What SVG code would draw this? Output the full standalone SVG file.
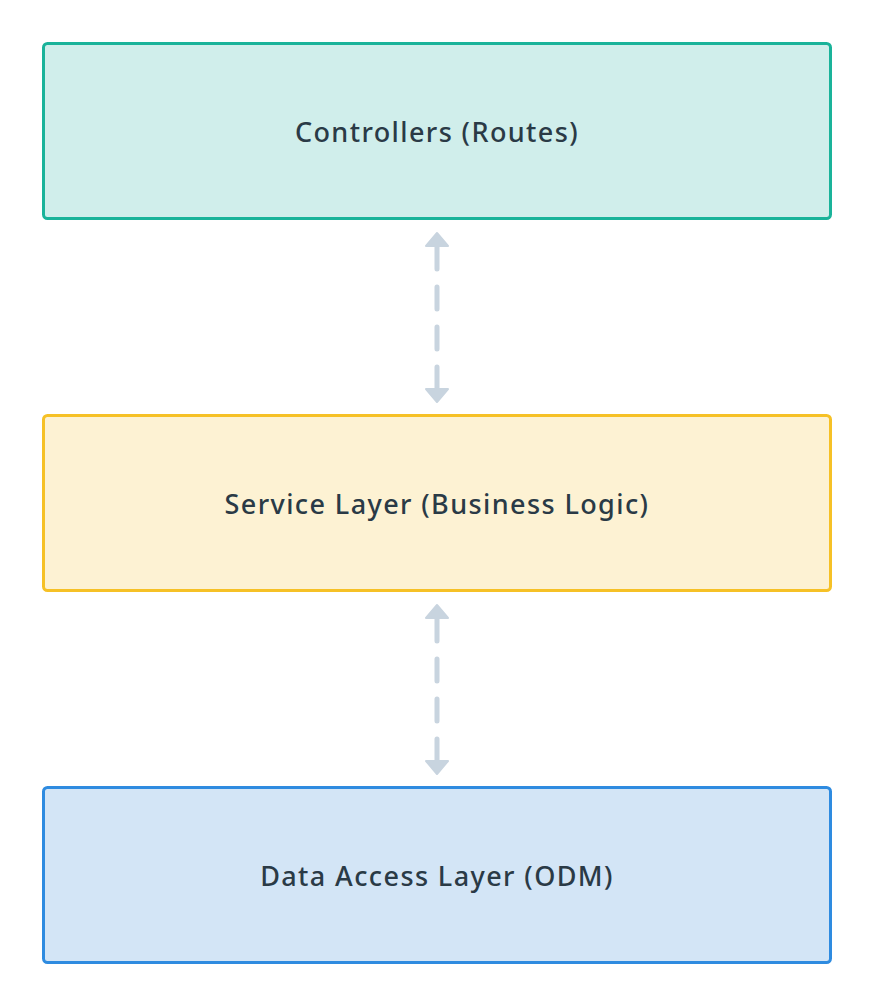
<svg xmlns="http://www.w3.org/2000/svg" width="875" height="1006" viewBox="0 0 875 1006">
<style>
.box{stroke-width:3}
.lbl{font-family:"Noto Sans","Liberation Sans",sans-serif;font-size:27px;font-weight:500;letter-spacing:1.4px;fill:#2a3a46;text-anchor:middle;dominant-baseline:central}
.conn{stroke:#c8d4df;stroke-width:5;stroke-linecap:round;stroke-dasharray:22 18;fill:none}
.head{fill:#c8d4df;stroke:#c8d4df;stroke-width:2;stroke-linejoin:round}
</style>
<rect width="875" height="1006" fill="#ffffff"/>
<g id="controllers">
<rect class="box" x="43.5" y="43.5" width="787" height="175" rx="4" fill="#d0eeeb" stroke="#1ab39a"/>
<text class="lbl" x="437" y="131">Controllers (Routes)</text>
</g>
<g id="service">
<rect class="box" x="43.5" y="415.5" width="787" height="175" rx="4" fill="#fdf2d3" stroke="#f6c126"/>
<text class="lbl" x="437" y="503">Service Layer (Business Logic)</text>
</g>
<g id="data">
<rect class="box" x="43.5" y="787.5" width="787" height="175" rx="4" fill="#d3e5f6" stroke="#2e8be0"/>
<text class="lbl" x="437" y="875">Data Access Layer (ODM)</text>
</g>
<g id="connectors">
<line class="conn" x1="437" y1="247" x2="437" y2="390"/>
<polygon class="head" points="437,233 448,246 426,246"/>
<polygon class="head" points="437,402 448,389 426,389"/>
<line class="conn" x1="437" y1="619" x2="437" y2="762"/>
<polygon class="head" points="437,605 448,618 426,618"/>
<polygon class="head" points="437,774 448,761 426,761"/>
</g>
</svg>
